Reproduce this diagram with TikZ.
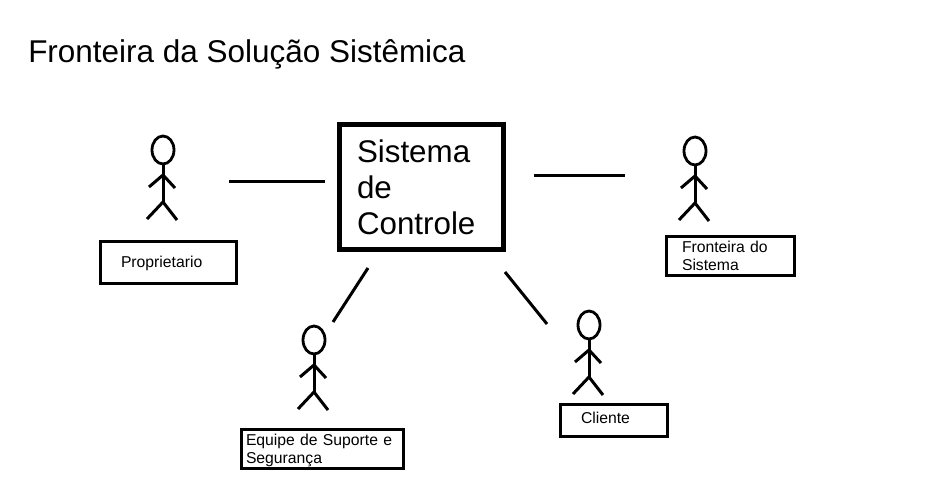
\documentclass[tikz,border=0pt]{standalone}
\usepackage{fontspec}
\setmainfont{Liberation Sans}
\tikzset{
  linha/.style={line width=2.25pt},
  caixa/.style={draw,line width=2.25pt,inner xsep=0pt,inner ysep=0pt,align=left,font=\fontsize{11.8}{13.5}\selectfont},
}
% boneco: cabeca em (#1,#2)
\newcommand{\boneco}[2]{
\draw[line width=2.1pt] (#1,#2) ellipse (11 and 14);
\draw[line width=2.25pt] (#1,#2+14) -- (#1,#2+52);
\draw[line width=2.25pt] (#1-14,#2+37) -- (#1,#2+25) -- (#1+12,#2+38);
\draw[line width=2.25pt] (#1-16,#2+69) -- (#1,#2+52) -- (#1+14,#2+70);
}
\begin{document}
\begin{tikzpicture}[x=0.75pt,y=-0.75pt]
\useasboundingbox (0,0) rectangle (938,477);
\node[anchor=base west,inner sep=0pt,font=\fontsize{23.6}{26}\selectfont] (titulo) at (28,63) {Fronteira da Solução Sistêmica};

\node[draw,line width=3.75pt,minimum width=123pt,minimum height=93.5pt,text width=123pt,inner xsep=0pt,inner ysep=0pt,align=left,font=\fontsize{23.5}{27}\selectfont] (sistema) at (421,187) {\hspace*{13.5pt}Sistema\\\hspace*{13.5pt}de\\\hspace*{13.5pt}Controle};

\boneco{163}{150}
\node[caixa,text width=102pt,minimum height=30.75pt,text height=10.1pt,text depth=2.6pt] (proprietario) at (168,262.5) {\hspace*{15.75pt}Proprietario};

\boneco{314}{340}
\node[caixa,text width=121.5pt,minimum height=29.25pt,text height=11.6pt] (equipe) at (322,448.5) {\hspace*{3.75pt}Equipe de Suporte e\\\hspace*{3.75pt}Segurança};

\boneco{589}{325}
\node[caixa,text width=80.25pt,minimum height=24pt,text height=8.6pt,text depth=3pt] (cliente) at (613.5,420) {\hspace*{15.75pt}Cliente};

\boneco{695}{151}
\node[caixa,text width=96pt,minimum height=28.5pt] (fronteira) at (730,256) {\hspace*{12pt}Fronteira do\\\hspace*{12pt}Sistema};

\coordinate (p1) at (229,181.5);
\coordinate (p2) at (325,181.5);
\coordinate (f1) at (534,175.5);
\coordinate (f2) at (625,175.5);
\coordinate (e1) at (368,268);
\coordinate (e2) at (333,322);
\coordinate (c1) at (505,272);
\coordinate (c2) at (547,324);
\draw[linha] (p1) -- (p2);
\draw[linha] (f1) -- (f2);
\draw[linha] (e1) -- (e2);
\draw[linha] (c1) -- (c2);
\end{tikzpicture}
\end{document}
